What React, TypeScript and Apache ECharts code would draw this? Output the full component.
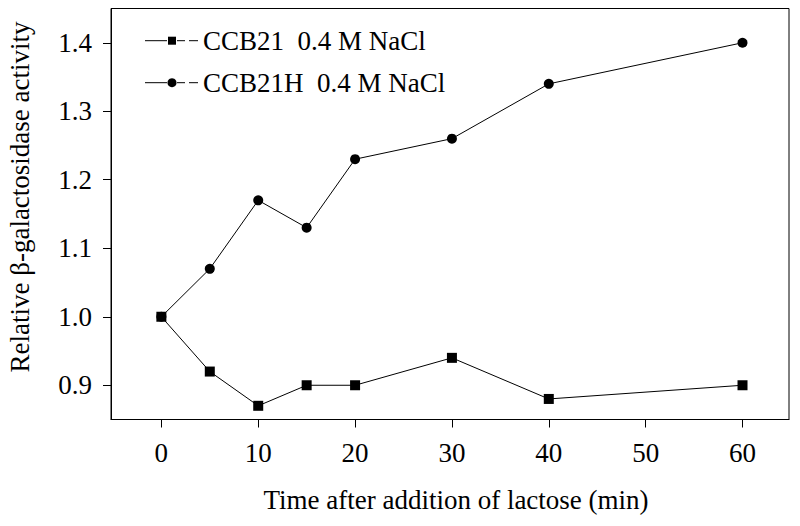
import React, { useEffect, useRef } from "react";
import * as echarts from "echarts";

const times = [0, 5, 10, 15, 20, 30, 40, 60];
const ccb21 = [1.0, 0.92, 0.87, 0.9, 0.9, 0.94, 0.88, 0.9];
const ccb21h = [1.0, 1.07, 1.17, 1.13, 1.23, 1.26, 1.34, 1.4];
const xTicks = [0, 10, 20, 30, 40, 50, 60];
const yTicks = [0.9, 1.0, 1.1, 1.2, 1.3, 1.4];
const seriesNames = ["CCB21  0.4 M NaCl", "CCB21H  0.4 M NaCl"];
const xTitle = "Time after addition of lactose (min)";
const yTitle = "Relative β-galactosidase activity";

const FONT = '"Liberation Serif", "Times New Roman", serif';
const FS = 27;

export default function App() {
  const ref = useRef<HTMLDivElement>(null);
  useEffect(() => {
    if (!ref.current) return;
    const chart = echarts.init(ref.current, null, { renderer: "svg" });
    const toPairs = (vals: number[]) => times.map((t, i) => [t, vals[i]]);
    const legendRow = (y: number, symbol: "rect" | "circle") => [
      { type: "line", shape: { x1: 145, y1: y, x2: 167, y2: y }, style: { stroke: "#000", lineWidth: 1 } },
      symbol === "rect"
        ? { type: "rect", shape: { x: 168, y: y - 4, width: 8, height: 8 }, style: { fill: "#000" } }
        : { type: "circle", shape: { cx: 172, cy: y, r: 4.5 }, style: { fill: "#000" } },
      { type: "line", shape: { x1: 177, y1: y, x2: 185, y2: y }, style: { stroke: "#000", lineWidth: 1 } },
      { type: "line", shape: { x1: 189, y1: y, x2: 198, y2: y }, style: { stroke: "#000", lineWidth: 1 } },
    ];
    chart.setOption({
      animation: false,
      backgroundColor: "#fff",
      textStyle: { fontFamily: FONT },
      grid: {
        left: 111,
        right: 11,
        top: 8.5,
        bottom: 106.5,
        show: true,
        borderColor: "#000",
        borderWidth: 1,
        containLabel: false,
      },
      xAxis: {
        type: "value",
        min: -5.2,
        max: 64.8,
        splitLine: { show: false },
        axisLine: { show: true, onZero: false, lineStyle: { color: "#000", width: 1 } },
        axisTick: { show: true, inside: false, length: 8, lineStyle: { color: "#000" }, customValues: xTicks },
        axisLabel: {
          customValues: xTicks,
          color: "#000",
          fontSize: FS,
          fontFamily: FONT,
          margin: 20,
        },
      },
      yAxis: {
        type: "value",
        min: 0.85,
        max: 1.45,
        splitLine: { show: false },
        axisLine: { show: true, onZero: false, lineStyle: { color: "#000", width: 1 } },
        axisTick: { show: true, inside: false, length: 8, lineStyle: { color: "#000" }, customValues: yTicks },
        axisLabel: {
          customValues: yTicks,
          color: "#000",
          fontSize: FS,
          fontFamily: FONT,
          margin: 19,
          formatter: (v: number) => v.toFixed(1),
        },
      },
      series: [
        {
          name: seriesNames[0],
          type: "line",
          data: toPairs(ccb21),
          symbol: "rect",
          symbolSize: 10,
          lineStyle: { color: "#000", width: 1 },
          itemStyle: { color: "#000" },
        },
        {
          name: seriesNames[1],
          type: "line",
          data: toPairs(ccb21h),
          symbol: "circle",
          symbolSize: 10,
          lineStyle: { color: "#000", width: 1 },
          itemStyle: { color: "#000" },
        },
      ],
      graphic: [
        ...legendRow(40.7, "rect"),
        ...legendRow(82.7, "circle"),
        {
          type: "text",
          x: 203,
          y: 40.7,
          style: { text: seriesNames[0], font: `${FS}px ${FONT}`, fill: "#000", textVerticalAlign: "middle" },
        },
        {
          type: "text",
          x: 203,
          y: 82.7,
          style: { text: seriesNames[1], font: `${FS}px ${FONT}`, fill: "#000", textVerticalAlign: "middle" },
        },
        {
          type: "text",
          x: 456,
          y: 500,
          style: { text: xTitle, font: `${FS}px ${FONT}`, fill: "#000", textAlign: "center", textVerticalAlign: "middle" },
        },
        {
          type: "text",
          x: 19.5,
          y: 197,
          rotation: Math.PI / 2,
          style: { text: yTitle, font: `${FS}px ${FONT}`, fill: "#000", textAlign: "center", textVerticalAlign: "middle" },
        },
      ],
    });
    return () => chart.dispose();
  }, []);
  return (
    <div
      ref={ref}
      style={{ position: "fixed", left: 0, top: 0, width: 800, height: 526, background: "#fff" }}
    />
  );
}
